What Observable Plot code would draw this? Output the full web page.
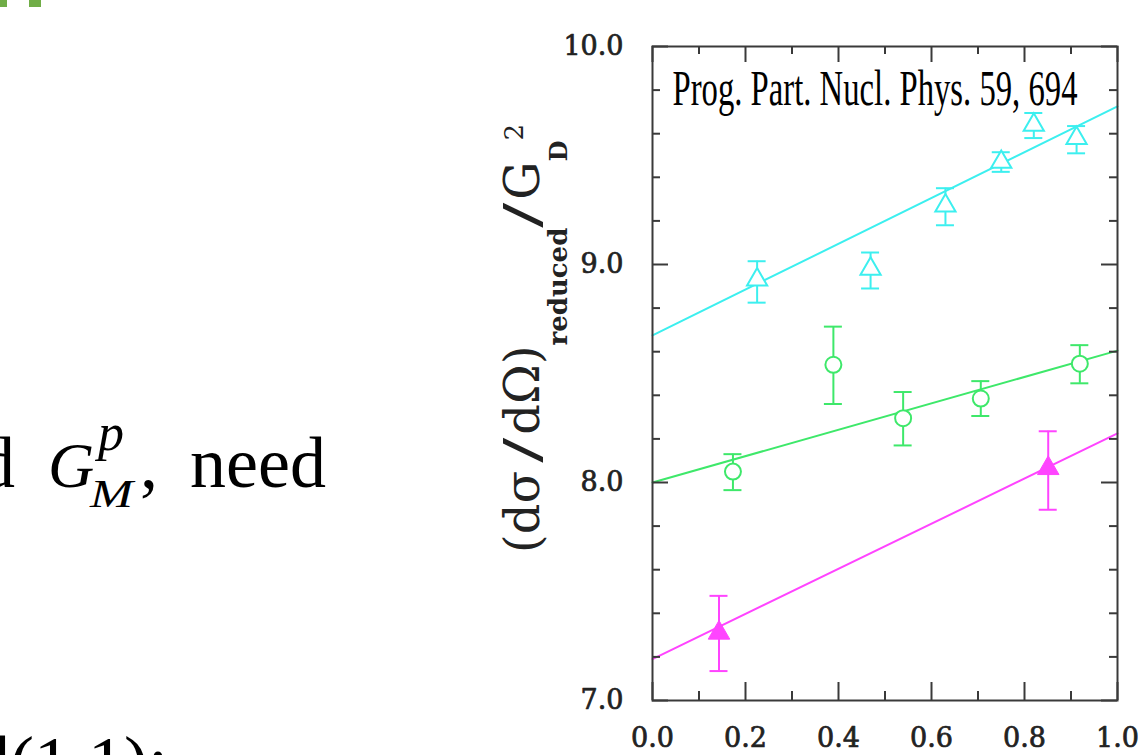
<!DOCTYPE html>
<html>
<head>
<meta charset="utf-8">
<script src="https://cdn.jsdelivr.net/npm/d3@7"></script>
<script src="https://cdn.jsdelivr.net/npm/@observablehq/plot@0.6"></script>
<style>
  html, body { margin: 0; padding: 0; background: #fff; }
  #page { position: relative; width: 1140px; height: 755px; overflow: hidden; }
  #page svg { display: block; }
</style>
</head>
<body>
<div id="page"></div>
<script>
// ---- data ----
const cyanX  = [0.225, 0.469, 0.630, 0.750, 0.820, 0.912];
const cyanY  = [8.930, 8.980, 9.270, 9.470, 9.640, 9.580];
const cyanLo = [8.825, 8.890, 9.180, 9.425, 9.580, 9.510];
const cyanHi = [9.015, 9.055, 9.350, 9.515, 9.695, 9.635];

const greenX  = [0.173, 0.389, 0.539, 0.706, 0.919];
const greenY  = [8.050, 8.540, 8.295, 8.385, 8.545];
const greenLo = [7.965, 8.360, 8.170, 8.305, 8.455];
const greenHi = [8.130, 8.715, 8.415, 8.465, 8.630];

const magentaX  = [0.143, 0.851];
const magentaY  = [7.310, 8.065];
const magentaLo = [7.135, 7.875];
const magentaHi = [7.480, 8.235];

// straight-line fits, read at the frame edges (x = 0 and x = 1)
const fitX = [0, 1];
const cyanFit = [8.675, 9.725];
const greenFit = [8.000, 8.605];
const magentaFit = [7.190, 8.225];

const xMajor = [0, 0.2, 0.4, 0.6, 0.8, 1.0];
const xMinor = [0.1, 0.3, 0.5, 0.7, 0.9];
const yMajor = [7, 8, 9, 10];
const yMinor = [7.2, 7.4, 7.6, 7.8, 8.2, 8.4, 8.6, 8.8, 9.2, 9.4, 9.6, 9.8];

const annotation = "Prog. Part. Nucl. Phys. 59, 694";

// ---- build tables ----
const pts = (X, Y, Lo, Hi) => X.map((x, i) => ({x, y: Y[i], lo: Lo[i], hi: Hi[i]}));
const cyan = pts(cyanX, cyanY, cyanLo, cyanHi);
const green = pts(greenX, greenY, greenLo, greenHi);
const magenta = pts(magentaX, magentaY, magentaLo, magentaHi);
const fit = F => fitX.map((x, i) => ({x, y: F[i]}));

const C_CYAN = "#3cefef", C_GREEN = "#3ee86a", C_MAG = "#ff44ff";
const AX = "#3a3a3a";

const W = 1140, H = 755, mL = 652, mR = 23, mT = 46, mB = 55;
const iw = W - mL - mR, ih = H - mT - mB;
const majorLen = 16, minorLen = 8;

function errMarks(data, color) {
  return [
    Plot.ruleX(data, {x: "x", y1: "lo", y2: "hi", stroke: color, strokeWidth: 2}),
    Plot.ruleY(data, {y: "lo", x1: "x", x2: "x", insetLeft: -9, insetRight: -9, stroke: color, strokeWidth: 2}),
    Plot.ruleY(data, {y: "hi", x1: "x", x2: "x", insetLeft: -9, insetRight: -9, stroke: color, strokeWidth: 2})
  ];
}

const svg = Plot.plot({
  width: W, height: H,
  marginLeft: mL, marginRight: mR, marginTop: mT, marginBottom: mB,
  style: {fontFamily: "'DejaVu Serif', serif", color: "#222", background: "transparent"},
  x: {domain: [0, 1], label: null},
  y: {domain: [7, 10], label: null},
  marks: [
    // fits
    Plot.line(fit(cyanFit), {x: "x", y: "y", stroke: C_CYAN, strokeWidth: 2}),
    Plot.line(fit(greenFit), {x: "x", y: "y", stroke: C_GREEN, strokeWidth: 2}),
    Plot.line(fit(magentaFit), {x: "x", y: "y", stroke: C_MAG, strokeWidth: 2}),
    // error bars
    ...errMarks(cyan, C_CYAN),
    ...errMarks(green, C_GREEN),
    ...errMarks(magenta, C_MAG),
    // markers
    Plot.dot(cyan, {x: "x", y: "y", symbol: "triangle", r: 7.5, stroke: C_CYAN, fill: "white", strokeWidth: 2}),
    Plot.dot(green, {x: "x", y: "y", symbol: "circle", r: 8, stroke: C_GREEN, fill: "white", strokeWidth: 2}),
    Plot.dot(magenta, {x: "x", y: "y", symbol: "triangle", r: 8, fill: C_MAG, stroke: C_MAG, strokeWidth: 1}),
    // inward ticks, all four sides
    Plot.tickY(yMajor, {y: d => d, insetRight: iw - majorLen, stroke: AX, strokeWidth: 2}),
    Plot.tickY(yMinor, {y: d => d, insetRight: iw - minorLen, stroke: AX, strokeWidth: 2}),
    Plot.tickY(yMajor, {y: d => d, insetLeft: iw - majorLen, stroke: AX, strokeWidth: 2}),
    Plot.tickY(yMinor, {y: d => d, insetLeft: iw - minorLen, stroke: AX, strokeWidth: 2}),
    Plot.tickX(xMajor, {x: d => d, insetTop: ih - majorLen - 2, stroke: AX, strokeWidth: 2}),
    Plot.tickX(xMinor, {x: d => d, insetTop: ih - minorLen - 1, stroke: AX, strokeWidth: 2}),
    Plot.tickX(xMajor, {x: d => d, insetBottom: ih - majorLen, stroke: AX, strokeWidth: 2}),
    Plot.tickX(xMinor, {x: d => d, insetBottom: ih - minorLen, stroke: AX, strokeWidth: 2}),
    Plot.frame({stroke: AX, strokeWidth: 2}),
    // tick labels
    Plot.axisY(yMajor, {anchor: "left", tickSize: 0, tickPadding: 29, tickFormat: d3.format(".1f"),
      fontSize: 27, textStroke: "#222", textStrokeWidth: 0.7, label: null}),
    Plot.axisX(xMajor, {anchor: "bottom", tickSize: 0, tickPadding: 27, tickFormat: d3.format(".1f"),
      fontSize: 27, textStroke: "#222", textStrokeWidth: 0.7, label: null}),
    // reference annotation
    Plot.text([annotation], {text: d => d, frameAnchor: "top-left", dx: 20, dy: 23, lineAnchor: "top", textAnchor: "start",
      fontFamily: "'Liberation Serif', serif", fontSize: 50, fill: "#000"})
  ]
});

// condense the annotation like the original
d3.select(svg).selectAll("text").filter(function() { return this.textContent === annotation; })
  .attr("textLength", 405).attr("lengthAdjust", "spacingAndGlyphs");

// y-axis title with sub/superscripts
const yl = d3.select(svg).append("text")
  .attr("text-anchor", "start")
  .attr("transform", "translate(539,553) rotate(-90)")
  .attr("font-family", "'DejaVu Serif', serif").attr("font-size", 48).attr("fill", "#222");
yl.append("tspan").text("(dσ");
yl.append("tspan").attr("dx", 8).attr("textLength", 25).attr("lengthAdjust", "spacingAndGlyphs").text("/");
yl.append("tspan").attr("dx", 3).text("dΩ)");
yl.append("tspan").attr("font-size", 26).attr("font-weight", "bold").attr("dy", 28).text("reduced");
yl.append("tspan").attr("dy", -28).attr("textLength", 25).attr("lengthAdjust", "spacingAndGlyphs").text("/");
yl.append("tspan").attr("dx", 3).text("G");
yl.append("tspan").attr("font-size", 24).attr("font-weight", "bold").attr("dy", 28).text("D");
yl.append("tspan").attr("font-size", 26).attr("dy", -44).text("2");

// surrounding slide text (cropped)
const slide = d3.select(svg).append("g").attr("text-anchor", "start")
  .attr("font-family", "'Liberation Serif', 'Times New Roman', serif").attr("fill", "#000");
slide.append("rect").attr("x", 0).attr("y", 0).attr("width", 7).attr("height", 7).attr("fill", "#70ad47");
slide.append("rect").attr("x", 29).attr("y", 0).attr("width", 12).attr("height", 7).attr("fill", "#70ad47");
slide.append("text").attr("x", -21).attr("y", 487).attr("font-size", 72).text("d");
slide.append("text").attr("x", 48).attr("y", 487).attr("font-size", 64).attr("font-style", "italic").text("G");
slide.append("text").attr("x", 98).attr("y", 450).attr("font-size", 52).attr("font-style", "italic").text("p");
slide.append("text").attr("x", 90).attr("y", 507).attr("font-size", 40).attr("font-style", "italic")
  .attr("textLength", 43).attr("lengthAdjust", "spacingAndGlyphs").text("M");
slide.append("text").attr("x", 140).attr("y", 487).attr("font-size", 72).text(",");
slide.append("text").attr("x", 190).attr("y", 487).attr("font-size", 72).text("need");
slide.append("text").attr("x", -26).attr("y", 786).attr("font-size", 72).text("d(1,1):");

document.getElementById("page").appendChild(svg);
</script>
</body>
</html>
